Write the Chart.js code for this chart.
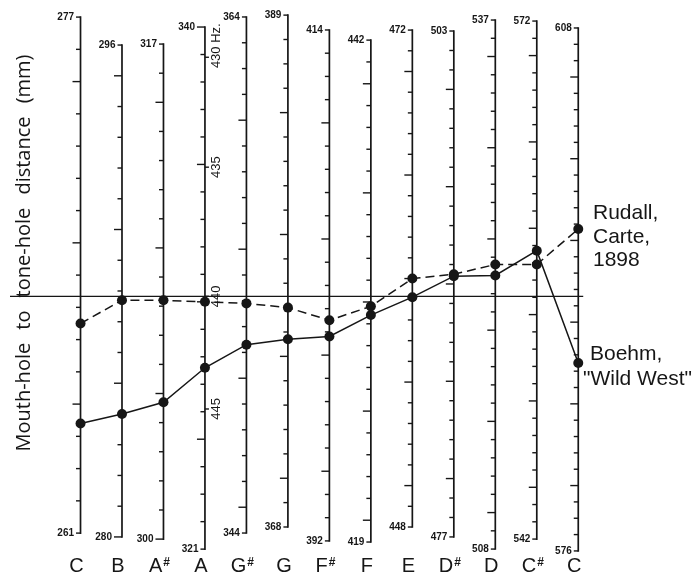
<!DOCTYPE html>
<html>
<head>
<meta charset="utf-8">
<script src="https://cdn.jsdelivr.net/npm/chart.js@4/dist/chart.umd.min.js"></script>
<style>
  html, body { margin: 0; padding: 0; background: #fff; }
  #wrap { width: 693px; height: 577px; position: relative; }
</style>
</head>
<body>
<div id="wrap"><canvas id="chart"></canvas></div>
<script>
// Notes, from the hole nearest the mouth-hole to the farthest
const notes = ['C', 'B', 'A#', 'A', 'G#', 'G', 'F#', 'F', 'E', 'D#', 'D', 'C#', 'C'];

// Labelled ends of each note's distance scale (mm)
const scaleTop    = [277, 296, 317, 340, 364, 389, 414, 442, 472, 503, 537, 572, 608];
const scaleBottom = [261, 280, 300, 321, 344, 368, 392, 419, 448, 477, 508, 542, 576];

// Range each note's scale covers over the full plot height (mm)
const rangeMax = [277.22, 297.14, 318.17, 340.62, 364.27, 389.21, 414.86, 443.38, 472.97, 504.08, 537.55, 572.64, 609.10];
const rangeMin = [260.29, 279.38, 299.42, 320.75, 343.11, 366.81, 391.35, 418.36, 446.60, 476.02, 507.62, 541.02, 575.69];

// Mouth-hole to tone-hole distances (mm)
const rudall = [267.5, 287.7, 308.2, 330.0, 352.9, 377.0, 401.5, 429.8, 460.0, 490.5, 523.6, 557.9, 595.7];
const boehm  = [264.4, 284.0, 304.7, 327.6, 351.3, 375.7, 400.8, 429.4, 459.1, 490.4, 523.0, 558.7, 587.5];

// Pitch marks carried on the A scale: Hz and the A distance (mm) they sit at
const hzLabels = [430, 435, 440, 445];
const hzOnA    = [338.9, 334.9, 330.2, 326.1];
const pitchNote = 3;          // index of the A scale
const referenceHz = 440;

const INK = '#161616';

// Position of a distance on note i's own scale, as a fraction of the plot height
function onScale(i, mm) {
  return (mm - rangeMin[i]) / (rangeMax[i] - rangeMin[i]);
}
const refLevel = onScale(pitchNote, hzOnA[hzLabels.indexOf(referenceHz)]);

// One vertical scale per note, standing at that note's x position
const noteScales = {};
notes.forEach((n, i) => {
  noteScales['n' + i] = {
    type: 'linear', axis: 'y', position: { x: i },
    min: rangeMin[i], max: rangeMax[i], display: false
  };
});

const nomogram = {
  id: 'nomogram',
  beforeDatasetsDraw(chart) {
    const ctx = chart.ctx;
    const xs = chart.scales.x;
    ctx.save();
    ctx.strokeStyle = INK;
    ctx.fillStyle = INK;
    notes.forEach((n, i) => {
      const sc = chart.scales['n' + i];
      const x = xs.getPixelForValue(i);
      const yT = sc.getPixelForValue(scaleTop[i]);
      const yB = sc.getPixelForValue(scaleBottom[i]);
      ctx.lineWidth = 1.7;
      ctx.beginPath(); ctx.moveTo(x, yT - 0.8); ctx.lineTo(x, yB + 0.8); ctx.stroke();
      ctx.lineWidth = 1.4;
      for (let v = scaleBottom[i]; v <= scaleTop[i]; v++) {
        const y = sc.getPixelForValue(v);
        const len = v % 5 === 0 ? 8 : 4.5;
        ctx.beginPath(); ctx.moveTo(x - len, y); ctx.lineTo(x, y); ctx.stroke();
      }
      ctx.font = 'bold 10px "Liberation Sans", Arial, sans-serif';
      ctx.textAlign = 'right';
      ctx.textBaseline = 'middle';
      const lt = scaleTop[i] % 5 === 0 ? 8 : 4.5;
      const lb = scaleBottom[i] % 5 === 0 ? 8 : 4.5;
      ctx.fillText(String(scaleTop[i]), x - lt - 2, yT);
      ctx.fillText(String(scaleBottom[i]), x - lb - 2, yB);
    });

    // pitch marks on the A scale
    const sa = chart.scales['n' + pitchNote];
    const xa = xs.getPixelForValue(pitchNote);
    ctx.font = '13px "Liberation Sans", Arial, sans-serif';
    ctx.textBaseline = 'middle';
    ctx.textAlign = 'left';
    hzLabels.forEach((hz, k) => {
      const y = sa.getPixelForValue(hzOnA[k]);
      ctx.lineWidth = 1.4;
      ctx.beginPath(); ctx.moveTo(xa, y); ctx.lineTo(xa + 4, y); ctx.stroke();
      const num = String(hz);
      const w = ctx.measureText(num).width;
      ctx.save();
      ctx.translate(xa + 11, y);
      ctx.rotate(-Math.PI / 2);
      ctx.fillText(k === 0 ? num + ' Hz.' : num, -w / 2, 0);
      ctx.restore();
    });
    ctx.restore();
  },
  afterDraw(chart) {
    const ctx = chart.ctx;
    const xs = chart.scales.x;
    ctx.save();
    ctx.fillStyle = INK;
    ctx.textBaseline = 'alphabetic';
    ctx.textAlign = 'left';

    // note names under the scales
    notes.forEach((n, i) => {
      const x = xs.getPixelForValue(i) - 4;
      const base = n[0];
      const sharp = n.length > 1 ? '#' : '';
      ctx.font = '20px "Liberation Sans", Arial, sans-serif';
      const wl = ctx.measureText(base).width;
      ctx.font = 'bold 12px "Liberation Sans", Arial, sans-serif';
      const ws = sharp ? ctx.measureText(sharp).width + 1 : 0;
      const x0 = x - (wl + ws) / 2;
      ctx.font = '20px "Liberation Sans", Arial, sans-serif';
      ctx.fillText(base, x0, 572);
      if (sharp) {
        ctx.font = 'bold 12px "Liberation Sans", Arial, sans-serif';
        ctx.fillText(sharp, x0 + wl + 1, 566);
      }
    });

    // series names
    ctx.font = '21px "Liberation Sans", Arial, sans-serif';
    ctx.fillText('Rudall,', 593, 219);
    ctx.fillText('Carte,', 593, 243);
    ctx.fillText('1898', 593, 266);
    ctx.fillText('Boehm,', 590, 360);
    ctx.fillText('"Wild West"', 583, 385);

    // vertical axis title, words spread over its length
    const title = 'Mouth-hole to tone-hole distance (mm)'.split(' ');
    ctx.font = '20px "Open Sans", "DejaVu Sans", sans-serif';
    ctx.textBaseline = 'middle';
    const widths = title.map(w => ctx.measureText(w).width);
    const total = 397;
    const gap = (total - widths.reduce((a, b) => a + b, 0)) / (title.length - 1);
    ctx.translate(24, 253);
    ctx.rotate(-Math.PI / 2);
    let pos = -total / 2;
    title.forEach((w, k) => {
      ctx.fillText(w, pos, 0);
      pos += widths[k] + gap;
    });
    ctx.restore();
  }
};

const ctxEl = document.getElementById('chart');
new Chart(ctxEl, {
  type: 'line',
  data: {
    datasets: [
      {
        label: referenceHz + ' Hz',
        data: [{ x: -1.7, y: refLevel }, { x: 12.12, y: refLevel }],
        borderColor: INK, borderWidth: 1.3, pointRadius: 0
      },
      {
        label: 'Rudall, Carte, 1898',
        data: rudall.map((v, i) => ({ x: i, y: onScale(i, v) })),
        borderColor: INK, borderWidth: 1.5, borderDash: [9, 5],
        pointRadius: 5, pointBackgroundColor: INK, pointBorderWidth: 0
      },
      {
        label: 'Boehm, "Wild West"',
        data: boehm.map((v, i) => ({ x: i, y: onScale(i, v) })),
        borderColor: INK, borderWidth: 1.5,
        pointRadius: 5, pointBackgroundColor: INK, pointBorderWidth: 0
      }
    ]
  },
  options: {
    responsive: true,
    maintainAspectRatio: false,
    devicePixelRatio: 1,
    animation: false,
    layout: { padding: { left: 10, right: 94, top: 10, bottom: 21 } },
    plugins: { legend: { display: false }, tooltip: { enabled: false } },
    elements: { line: { tension: 0 } },
    scales: Object.assign({
      x: { type: 'linear', min: -1.7, max: 12.5, display: false },
      y: { type: 'linear', min: 0, max: 1, display: false }
    }, noteScales)
  },
  plugins: [nomogram]
});
</script>
</body>
</html>
